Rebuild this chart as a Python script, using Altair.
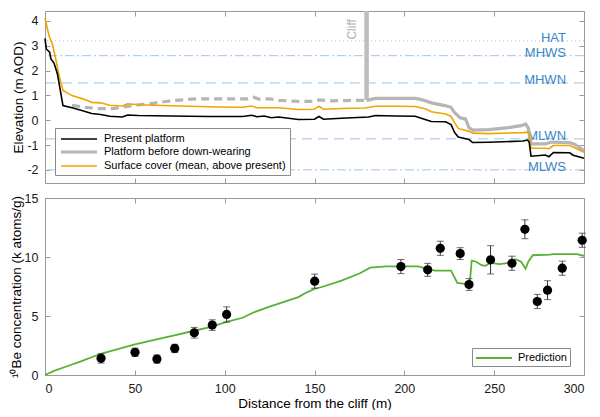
import altair as alt
import pandas as pd

# ---- top panel: elevation profiles (m AOD) against distance from the cliff (m) ----
present_x = [0, 0.7, 2.6, 3.3, 5.0, 6.9, 8.2, 10, 15, 20, 26, 31, 36, 43, 46, 52, 70, 91, 110, 115,
             118, 122, 126, 130, 141, 150, 152.5, 155, 165, 180, 184, 195, 206, 212, 215, 223, 226,
             228, 230, 236, 238, 247, 266, 268.5, 269.5, 270.5, 278.5, 280.5, 283, 292, 294, 300]
present_y = [3.30, 2.87, 2.74, 2.47, 2.30, 1.87, 1.33, 0.59, 0.50, 0.40, 0.27, 0.23, 0.16, 0.13,
             0.21, 0.19, 0.17, 0.15, 0.15, 0.20, 0.14, 0.17, 0.10, 0.13, 0.03, 0.04, 0.15, 0.04,
             0.08, 0.13, 0.19, 0.17, 0.16, 0.02, -0.05, -0.06, -0.18, -0.50, -0.68, -0.78, -0.90,
             -0.89, -0.84, -0.80, -0.88, -1.45, -1.40, -1.47, -1.30, -1.31, -1.41, -1.53]

cover_x = [0, 2.2, 4.1, 6.0, 7.8, 10, 15, 21, 26, 31, 36, 43, 46, 52, 70, 97, 110, 115, 118, 130,
           141, 150, 152.5, 155, 165, 178, 184, 195, 206, 212, 215, 223, 226, 228, 230, 236, 238,
           247, 266, 268.5, 269.5, 270.5, 278.5, 280.5, 283, 292, 294, 300]
cover_y = [4.11, 3.41, 3.07, 2.47, 1.80, 1.20, 0.99, 0.86, 0.72, 0.70, 0.60, 0.57, 0.66, 0.62,
           0.58, 0.53, 0.52, 0.57, 0.50, 0.50, 0.43, 0.44, 0.56, 0.44, 0.47, 0.49, 0.56, 0.56,
           0.55, 0.45, 0.34, 0.25, 0.15, -0.10, -0.33, -0.45, -0.52, -0.54, -0.50, -0.48, -0.55,
           -1.13, -1.13, -1.15, -1.02, -1.02, -1.08, -1.29]

# platform before down-wearing: reconstructed (dashed) seaward of the cliff, measured beyond it
before_dash_x = [15, 22, 30, 38, 45, 52, 60, 72, 85, 104, 113, 116, 119, 125, 130, 141, 150, 152.5,
                 160, 170, 179]
before_dash_y = [0.60, 0.52, 0.47, 0.47, 0.55, 0.62, 0.68, 0.80, 0.86, 0.86, 0.86, 0.93, 0.85,
                 0.86, 0.80, 0.76, 0.76, 0.82, 0.78, 0.80, 0.80]
before_x = [179, 184, 206, 210, 215, 222, 226, 228, 231, 234, 236, 238, 247, 258, 265, 267.5, 269,
            270.5, 278.5, 282, 292, 295, 300]
before_y = [0.80, 0.88, 0.88, 0.82, 0.70, 0.60, 0.52, 0.30, 0.10, 0.05, -0.30, -0.40, -0.38, -0.30,
            -0.22, -0.15, -0.32, -0.95, -0.95, -0.88, -0.90, -0.98, -1.22]

tide_names = ['HAT', 'MHWS', 'MHWN', 'MLWN', 'MLWS']
tide_levels = [3.2, 2.6, 1.5, -0.75, -2.0]
tide_label_x = 290

cliff_x = 179
cliff_base = 0.82
cliff_top = 4.40

# ---- bottom panel: 10Be concentration (k atoms/g) ----
pred_x = [0, 5, 11.5, 20, 31, 50, 72, 83, 93, 101, 110, 116, 125, 141, 145, 150, 155, 165, 175,
          181, 190, 198, 208, 213, 217, 226, 229.5, 235, 236.5, 237.5, 240, 243, 245, 248, 253,
          258, 262, 265, 267.5, 269, 271.5, 281, 283, 296, 300]
pred_y = [0, 0.35, 0.7, 1.15, 1.8, 2.6, 3.35, 3.75, 4.1, 4.5, 4.85, 5.3, 5.8, 6.6, 6.95, 7.3, 7.5,
          8.0, 8.6, 9.1, 9.2, 9.2, 9.2, 8.98, 8.85, 8.85, 7.8, 7.7, 7.9, 9.7, 9.6, 9.3, 9.25, 9.5,
          9.4, 9.5, 9.8, 9.6, 9.0, 9.6, 10.15, 10.2, 10.25, 10.25, 10.1]

sample_x = [31.2, 50.1, 62.3, 72.2, 83.1, 93.1, 101.1, 150.1, 198.1, 213.0, 220.0, 231.1, 236.0,
            248.0, 259.9, 267.1, 274.0, 279.7, 287.9, 299.0]
sample_be = [1.41, 1.92, 1.35, 2.25, 3.58, 4.23, 5.13, 7.95, 9.19, 8.91, 10.74, 10.29, 7.67, 9.76,
             9.47, 12.35, 6.23, 7.19, 9.05, 11.42]
sample_err = [0.4, 0.35, 0.35, 0.35, 0.45, 0.45, 0.65, 0.6, 0.6, 0.55, 0.6, 0.5, 0.5, 1.2, 0.6,
              0.8, 0.6, 0.8, 0.6, 0.6]

series = ['Present platform', 'Platform before down-wearing', 'Surface cover (mean, above present)']
series_colors = ['black', '#b5b5b5', '#f0a500']
series_widths = [1.6, 3.2, 1.6]

profile = pd.concat([
    pd.DataFrame({'dist': present_x, 'elev': present_y, 'series': series[0], 'part': 'solid'}),
    pd.DataFrame({'dist': before_dash_x, 'elev': before_dash_y, 'series': series[1], 'part': 'dash'}),
    pd.DataFrame({'dist': before_x, 'elev': before_y, 'series': series[1], 'part': 'solid'}),
    pd.DataFrame({'dist': cover_x, 'elev': cover_y, 'series': series[2], 'part': 'solid'}),
])
tides = pd.DataFrame({'name': tide_names, 'level': tide_levels, 'lx': tide_label_x})
cliff = pd.DataFrame({'x': [cliff_x], 'y': [cliff_base], 'y2': [cliff_top], 'label': ['Cliff'],
                      'tx': [cliff_x - 8], 'ty': [3.66]})
pred = pd.DataFrame({'dist': pred_x, 'be': pred_y, 'series': 'Prediction'})
samples = pd.DataFrame({'dist': sample_x, 'be': sample_be,
                        'lo': [b - e for b, e in zip(sample_be, sample_err)],
                        'hi': [b + e for b, e in zip(sample_be, sample_err)]})

FRAME = '#9a9a9a'
FONT = 'Liberation Sans'
W = 539
H_TOP = 172
H_BOT = 177
x_ticks = [0, 50, 100, 150, 200, 250, 300]
elev_ticks = [-2, -1, 0, 1, 2, 3, 4]
be_ticks = [0, 5, 10, 15]

x_scale = alt.Scale(domain=[0, 300], nice=False)
elev_scale = alt.Scale(domain=[-2.53, 4.40], nice=False)
be_scale = alt.Scale(domain=[0, 15], nice=False)

# inward ticks: axis line pulled inside the frame, ticks pointing back out to the frame
inward = dict(offset=-5, tickSize=5, domain=False, grid=False, tickColor=FRAME)

# legend key: a 36px line drawn by a custom symbol path (unit = sqrt(size)/2 = 6px)
KEY = 'M-1,0H5'
key_legend = dict(title=None, orient='none', symbolType=KEY, symbolSize=144, labelOffset=29,
                  labelFontSize=11, labelFont=FONT, labelColor='black', labelLimit=400,
                  fillColor='white', strokeColor='#8a8a8a', rowPadding=0)


def ax(orient, values, title=None, labels=True, **kw):
    return alt.Axis(orient=orient, values=values, title=title, labels=labels, **inward, **kw)


top_legend = alt.Legend(legendX=10, legendY=117, padding=4, **key_legend)
color_top = alt.Color('series:N', scale=alt.Scale(domain=series, range=series_colors),
                      legend=top_legend)
width_top = alt.StrokeWidth('series:N',
                            scale=alt.Scale(type='ordinal', domain=series, range=series_widths),
                            legend=top_legend)

tide_rules = alt.Chart(tides).mark_rule(color='#9cc6e8', strokeWidth=1).encode(
    y=alt.Y('level:Q', scale=elev_scale, axis=None),
    strokeDash=alt.StrokeDash('name:N', scale=alt.Scale(
        domain=tide_names, range=[[1, 3], [9, 3, 2, 3], [10, 6], [10, 6], [9, 3, 2, 3]]),
        legend=None),
)
tide_text = alt.Chart(tides).mark_text(align='right', baseline='alphabetic', dy=1, fontSize=13,
                                        font=FONT, color='#3a86c6').encode(
    x=alt.X('lx:Q', scale=x_scale, axis=None),
    y=alt.Y('level:Q', scale=elev_scale, axis=None),
    text='name:N',
)
cliff_bar = alt.Chart(cliff).mark_rule(color='#bdbdbd', strokeWidth=4.5).encode(
    x=alt.X('x:Q', scale=x_scale, axis=ax('top', x_ticks, labels=False)),
    y=alt.Y('y:Q', scale=elev_scale, axis=ax('right', elev_ticks, labels=False)),
    y2='y2:Q',
)
cliff_text = alt.Chart(cliff).mark_text(angle=270, baseline='middle', fontSize=12, font=FONT,
                                        color='#b0b0b0').encode(
    x=alt.X('tx:Q', scale=x_scale, axis=None),
    y=alt.Y('ty:Q', scale=elev_scale, axis=None),
    text='label:N',
)


def profile_layer(name, part, dash=None, axes=False):
    kw = dict(strokeDash=dash) if dash else {}
    if axes:
        xa = ax('bottom', x_ticks, labels=False)
        ya = ax('left', elev_ticks, title='Elevation (m AOD)', labelPadding=7,
                labelExpr="'' + datum.value", titleX=-25, titleY=H_TOP / 2, titleBaseline='bottom')
    else:
        xa = ya = None
    return alt.Chart(profile).mark_line(**kw).encode(
        x=alt.X('dist:Q', scale=x_scale, axis=xa),
        y=alt.Y('elev:Q', scale=elev_scale, axis=ya),
        color=color_top,
        strokeWidth=width_top,
    ).transform_filter(
        (alt.datum.series == name) & (alt.datum.part == part)
    )


top = alt.layer(
    tide_rules, tide_text, cliff_bar, cliff_text,
    profile_layer(series[1], 'dash', dash=[8, 5]),
    profile_layer(series[1], 'solid'),
    profile_layer(series[2], 'solid'),
    profile_layer(series[0], 'solid', axes=True),
).resolve_axis(x='independent', y='independent').properties(width=W, height=H_TOP)

pred_line = alt.Chart(pred).mark_line(strokeWidth=1.8).encode(
    x=alt.X('dist:Q', scale=x_scale, axis=ax('top', x_ticks, labels=False)),
    y=alt.Y('be:Q', scale=be_scale, axis=ax('right', be_ticks, labels=False)),
    color=alt.Color('series:N', scale=alt.Scale(domain=['Prediction'], range=['#58b133']),
                    legend=alt.Legend(legendX=427, legendY=150, padding=3, symbolStrokeWidth=1.8,
                                      **key_legend)),
)
err_rule = alt.Chart(samples).mark_rule(color='#333333', strokeWidth=1).encode(
    x=alt.X('dist:Q', scale=x_scale, axis=None),
    y=alt.Y('lo:Q', scale=be_scale, axis=None),
    y2='hi:Q',
)
err_lo = alt.Chart(samples).mark_tick(orient='horizontal', size=7, thickness=1, color='#333333').encode(
    x=alt.X('dist:Q', scale=x_scale, axis=None),
    y=alt.Y('lo:Q', scale=be_scale, axis=None),
)
err_hi = alt.Chart(samples).mark_tick(orient='horizontal', size=7, thickness=1, color='#333333').encode(
    x=alt.X('dist:Q', scale=x_scale, axis=None),
    y=alt.Y('hi:Q', scale=be_scale, axis=None),
)
points = alt.Chart(samples).mark_circle(size=85, color='black', opacity=1).encode(
    x=alt.X('dist:Q', scale=x_scale,
            axis=ax('bottom', x_ticks, title='Distance from the cliff (m)', labelPadding=7,
                    titleY=33, titleBaseline='middle')),
    y=alt.Y('be:Q', scale=be_scale,
            axis=ax('left', be_ticks, title='¹⁰Be concentration (k atoms/g)', labelPadding=7,
                    titleX=-27, titleY=H_BOT / 2, titleBaseline='bottom')),
)

bottom = alt.layer(
    pred_line, err_rule, err_lo, err_hi, points,
).resolve_axis(x='independent', y='independent').properties(width=W, height=H_BOT)

chart = alt.vconcat(top, bottom, spacing=15, bounds='flush').resolve_scale(
    color='independent', strokeWidth='independent'
).properties(
    padding={'left': 0, 'top': 0, 'right': 0, 'bottom': 0}
).configure(
    font=FONT
).configure_view(
    stroke=FRAME, strokeWidth=1
).configure_axis(
    labelFont=FONT, labelFontSize=12.5, labelColor='#1a1a1a',
    titleFont=FONT, titleFontSize=13.5, titleFontWeight='normal', titleColor='black'
)

chart.save("out.html", embed_options={"renderer": "svg", "actions": False})
